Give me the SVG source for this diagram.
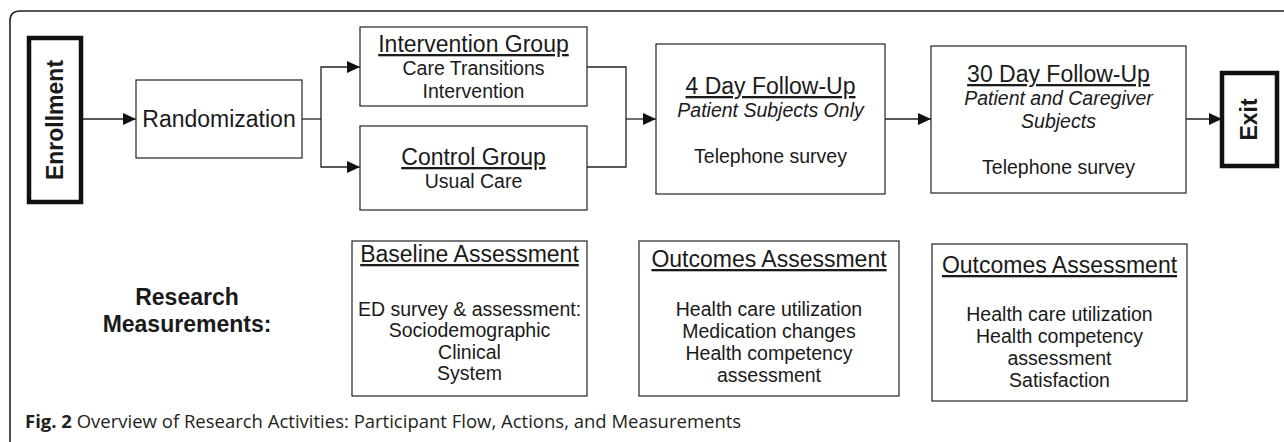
<svg xmlns="http://www.w3.org/2000/svg" width="1284" height="442" viewBox="0 0 1284 442">
<defs>
<marker id="arr" markerUnits="userSpaceOnUse" markerWidth="13" markerHeight="12" refX="13" refY="6" orient="auto">
<path d="M0,0 L13,6 L0,12 z" fill="#111"/>
</marker>
<style>
.box{fill:#fff;stroke:#333;stroke-width:1.3}
.thick{fill:#fff;stroke:#111;stroke-width:4.5}
.t{font-family:"Liberation Sans",Arial,sans-serif;fill:#1a1a1a;text-anchor:middle}
.h{font-size:23px;text-decoration:underline}
.b{font-size:19.5px}
.i{font-size:19.5px;font-style:italic}
.bold{font-weight:bold;font-size:23px}
.conn{fill:none;stroke:#222;stroke-width:1.3}
.cap{font-family:"Open Sans","Noto Sans",sans-serif;font-size:18.5px;fill:#231f20}
</style>
</defs>
<rect width="1284" height="442" fill="#fff"/>
<path d="M10,442 V21 Q10,11 20,11 H1284" fill="none" stroke="#222" stroke-width="1.6"/>

<g id="connectors">
<path class="conn" d="M82,119 H136" marker-end="url(#arr)"/>
<path class="conn" d="M302,119 H321"/>
<path class="conn" d="M321,119 V67 H360" marker-end="url(#arr)"/>
<path class="conn" d="M321,119 V167 H360" marker-end="url(#arr)"/>
<path class="conn" d="M587,67 H626 V167 H587"/>
<path class="conn" d="M626,119 H656" marker-end="url(#arr)"/>
<path class="conn" d="M885,119 H931" marker-end="url(#arr)"/>
<path class="conn" d="M1186,119 H1222" marker-end="url(#arr)"/>
</g>

<g id="enrollment">
<rect class="thick" x="29" y="38" width="52" height="164"/>
<text class="t bold" transform="translate(63,120) rotate(-90)">Enrollment</text>
</g>

<g id="randomization">
<rect class="box" x="136" y="80" width="166" height="78"/>
<text class="t" x="219" y="127" font-size="23">Randomization</text>
</g>

<g id="intervention">
<rect class="box" x="360" y="27" width="227" height="79"/>
<text class="t h" x="473.5" y="52">Intervention Group</text>
<text class="t b" x="473.5" y="75">Care Transitions</text>
<text class="t b" x="473.5" y="98">Intervention</text>
</g>

<g id="control">
<rect class="box" x="360" y="126" width="227" height="84"/>
<text class="t h" x="473.5" y="165">Control Group</text>
<text class="t b" x="473.5" y="188">Usual Care</text>
</g>

<g id="followup4">
<rect class="box" x="656" y="44" width="229" height="150"/>
<text class="t h" x="770.5" y="94">4 Day Follow-Up</text>
<text class="t i" x="770.5" y="117">Patient Subjects Only</text>
<text class="t b" x="770.5" y="163">Telephone survey</text>
</g>

<g id="followup30">
<rect class="box" x="931" y="46" width="255" height="147"/>
<text class="t h" x="1058.5" y="82">30 Day Follow-Up</text>
<text class="t i" x="1058.5" y="105">Patient and Caregiver</text>
<text class="t i" x="1058.5" y="128">Subjects</text>
<text class="t b" x="1058.5" y="174">Telephone survey</text>
</g>

<g id="exit">
<rect class="thick" x="1222" y="73" width="55" height="93"/>
<text class="t bold" transform="translate(1257,119.5) rotate(-90)">Exit</text>
</g>

<g id="research-label">
<text class="t bold" x="187" y="305">Research</text>
<text class="t bold" x="187" y="332">Measurements:</text>
</g>

<g id="baseline">
<rect class="box" x="352" y="241" width="235" height="155"/>
<text class="t h" x="469.5" y="262">Baseline Assessment</text>
<text class="t b" x="469.5" y="316">ED survey &amp; assessment:</text>
<text class="t b" x="469.5" y="337">Sociodemographic</text>
<text class="t b" x="469.5" y="359">Clinical</text>
<text class="t b" x="469.5" y="380">System</text>
</g>

<g id="outcomes1">
<rect class="box" x="639" y="241" width="260" height="155"/>
<text class="t h" x="769" y="267">Outcomes Assessment</text>
<text class="t b" x="769" y="316">Health care utilization</text>
<text class="t b" x="769" y="338">Medication changes</text>
<text class="t b" x="769" y="360">Health competency</text>
<text class="t b" x="769" y="382">assessment</text>
</g>

<g id="outcomes2">
<rect class="box" x="932" y="244" width="255" height="157"/>
<text class="t h" x="1059.5" y="273">Outcomes Assessment</text>
<text class="t b" x="1059.5" y="321">Health care utilization</text>
<text class="t b" x="1059.5" y="343">Health competency</text>
<text class="t b" x="1059.5" y="365">assessment</text>
<text class="t b" x="1059.5" y="387">Satisfaction</text>
</g>

<text class="cap" x="25" y="428"><tspan font-weight="bold">Fig. 2</tspan> Overview of Research Activities: Participant Flow, Actions, and Measurements</text>
</svg>
